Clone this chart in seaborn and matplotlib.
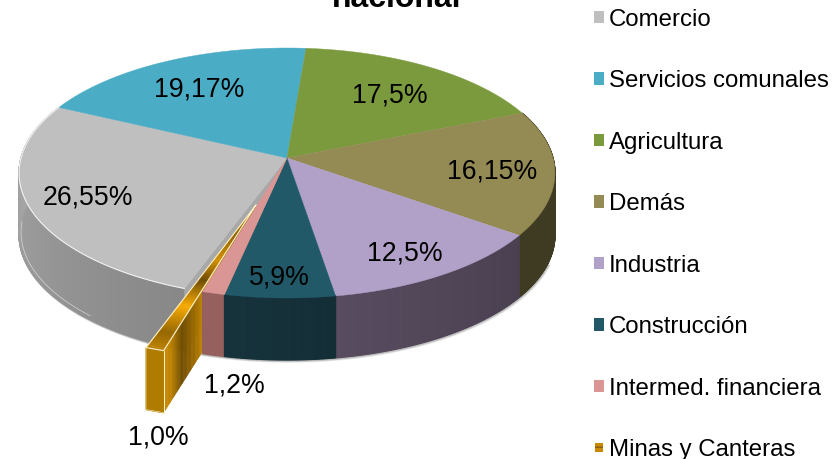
import numpy as np
import matplotlib
matplotlib.use("Agg")
import matplotlib.pyplot as plt
from matplotlib.patches import Patch
import seaborn as sns

# ---- data ----
categories = ["Comercio", "Servicios comunales", "Agricultura", "Demás", "Industria",
              "Construcción", "Intermed. financiera", "Minas y Canteras"]
values = [26.55, 19.17, 17.5, 16.15, 12.5, 5.9, 1.2, 1.0]
value_labels = ["26,55%", "19,17%", "17,5%", "16,15%", "12,5%", "5,9%", "1,2%", "1,0%"]

# ---- style ----
top_colors = ["#bfbfbf", "#4bacc6", "#7b9a3d", "#948a54", "#b1a0c7", "#215968", "#da9694", "#c98a00"]
side_colors = ["#9a9a9a", "#2f7f95", "#55702a", "#3f3a22", "#4d4354", "#153039", "#96605f", "#b07c00"]
label_xy = [(88, 198), (199, 90), (390, 95), (492, 172), (405, 254), (279, 278), (234, 386), (158, 437)]

sns.set_theme(style="white")
plt.rcParams["font.family"] = ["Liberation Sans", "DejaVu Sans"]
palette = sns.color_palette(top_colors)

W, H = 839, 459
fig = plt.figure(figsize=(W / 100, H / 100), dpi=100)
ax = fig.add_axes([0, 0, 1, 1])
ax.set_xlim(0, W)
ax.set_ylim(H, 0)
ax.axis("off")

# ---- perspective pie geometry ----
CX, CY, SX, SY, K, DEPTH = 287, 158, 266, 123.2, 0.12, 62
START = 250.0
APEX_SHIFT = np.array([-31, 47])
RIM_SHIFT = np.array([-39, 59])


def rim(deg):
    t = np.radians(deg)
    x, y = np.cos(t), np.sin(t)
    d = 1 + K * y
    return CX + SX * x / d, CY - SY * y / d


def shade(color, f):
    c = np.array(matplotlib.colors.to_rgb(color)) * f
    return tuple(np.clip(c, 0, 1))


bounds = START - np.concatenate([[0], np.cumsum(values)]) * 3.6


def side(i, profile, shift=(0, 0), z=2):
    a0, a1 = bounds[i], bounds[i + 1]
    angles = np.linspace(a0, a1, max(int(abs(a0 - a1) * 3), 12))
    for j in range(len(angles) - 1):
        x0, y0 = rim(angles[j])
        x1, y1 = rim(angles[j + 1])
        x0, x1 = x0 + shift[0], x1 + shift[0]
        y0, y1 = y0 + shift[1], y1 + shift[1]
        if np.sin(np.radians((angles[j] + angles[j + 1]) / 2)) > 0.45:
            continue
        f = profile((j + 0.5) / (len(angles) - 1))
        c = shade(side_colors[i], f)
        ax.fill([x0, x1, x1, x0], [y0, y1, y1 + DEPTH, y0 + DEPTH], color=c, lw=0.9, zorder=z)


def top(i, z=3, edge=None):
    a0, a1 = bounds[i], bounds[i + 1]
    angles = np.linspace(a0, a1, max(int(abs(a0 - a1) * 2), 6))
    xs, ys = rim(angles)
    ax.fill(np.r_[CX, xs], np.r_[CY, ys], color=palette[i], lw=0.3, zorder=z)
    if edge:
        ax.plot(xs, ys, color=edge, lw=0.8, zorder=z + 0.1)


# soft shadow under the front rim
sh = np.linspace(-172, -20, 200)
sx, sy = rim(sh)
for off, alpha in [(3, 0.10), (2, 0.16), (1, 0.22)]:
    ax.plot(sx + off * 0.5, sy + DEPTH + off * 0.6, color="#555555", alpha=alpha, lw=1.5, zorder=1)

# cut face of the grey slice, seen where the small slice moved away
ex, ey = rim(bounds[1])
ex, ey = rim(bounds[0] - 360 + 360)
ax.fill([CX, ex, ex, CX], [CY, ey, ey + DEPTH, CY + DEPTH], color="#a8a8a8", lw=0.3, zorder=2.8)

side(0, lambda p: np.interp(p, [0, 1], [0.88, 1.12]))
side(3, lambda p: 1.0)
side(4, lambda p: np.interp(p, [0, 1], [0.95, 1.14]))
top(0, edge="#f2f2f2")
top(1)
top(2)
top(3)
top(4)

# faint light line along the lower left of the grey side
la = np.linspace(-178, -133, 80)
lx, ly = rim(la)
ax.plot(lx + 2, ly + DEPTH - 3, color="#f0f0f0", lw=0.5, alpha=0.7, zorder=2.5)

# exploded slice
apex = np.array([CX, CY]) + APEX_SHIFT
r0 = np.array(rim(bounds[7])) + RIM_SHIFT
r1 = np.array(rim(bounds[8])) + RIM_SHIFT
n = 70
face_stops = [0, 0.08, 0.2, 0.35, 0.5, 0.65, 1]
face_vals = [1.0, 0.95, 0.55, 0.8, 1.1, 0.85, 0.85]
for j in range(n):
    p0, p1 = j / n, (j + 1) / n
    f = np.interp((p0 + p1) / 2, face_stops, face_vals)
    c = shade(top_colors[7], f)
    q = [apex + (r0 - apex) * (1 - p0), apex + (r0 - apex) * (1 - p1)]
    q2 = [q[1] + (0, DEPTH), q[0] + (0, DEPTH)]
    ax.fill(*zip(*(q + q2)), color=c, lw=0.4, zorder=4)
# top of the exploded slice
top_stops = [0, 0.12, 0.3, 0.48, 0.62, 0.8, 1]
top_vals = [0.95, 0.75, 1.25, 0.55, 1.05, 0.7, 1.1]
for j in range(n):
    p0, p1 = j / n, (j + 1) / n
    f = np.interp((p0 + p1) / 2, top_stops, top_vals)
    c = shade(top_colors[7], f)
    a, b = 1 - p0, 1 - p1
    pts = [apex + (r0 - apex) * a, apex + (r0 - apex) * b, apex + (r1 - apex) * b, apex + (r1 - apex) * a]
    ax.fill(*zip(*pts), color=c, lw=0.3, zorder=4.2)
side(7, lambda p: 1.0, shift=RIM_SHIFT, z=4.1)
ax.plot(*zip(apex, r1, r0, apex), color="#fff4d0", lw=0.8, zorder=4.3)
ax.plot(*zip(r0, r0 + (0, DEPTH)), color="#fff4d0", lw=0.7, zorder=4.3)
ax.plot(*zip(r0 + (0, DEPTH), r1 + (0, DEPTH), r1), color="#f7e6b0", lw=0.5, zorder=4.3)

side(6, lambda p: 1.0, z=5)
side(5, lambda p: np.interp(p, [0, 1], [0.95, 1.05]), z=5)
top(5, z=6)
top(6, z=6)

# value labels
for txt, (x, y) in zip(value_labels, label_xy):
    ax.text(x, y, txt, ha="center", va="center", fontsize=19.2, color="black", zorder=8)

# clipped title
ax.text(396.5, 7, "nacional", ha="center", va="baseline", fontsize=23, fontweight="bold", color="black")

# legend
handles = [Patch(facecolor=palette[i], edgecolor="none") for i in range(7)]
handles.append(Patch(facecolor=top_colors[7], edgecolor="#8a5c00", hatch="---", lw=0))
leg = ax.legend(handles, categories, loc="upper left", bbox_to_anchor=(594 / W, 1 - 8.5 / H),
                bbox_transform=ax.transAxes, frameon=False, fontsize=17.3,
                labelspacing=1.645, handlelength=0.42, handleheight=0.42, handletextpad=0.21,
                borderpad=0, borderaxespad=0)
for t in leg.get_texts():
    t.set_color("black")
m = leg.legend_handles[7]
m.set_x(m.get_x() + 1)
m.set_width(m.get_width() - 2)
m.set_y(m.get_y() + 1)
m.set_height(m.get_height() - 2)

fig.savefig("out.png", dpi=100)
